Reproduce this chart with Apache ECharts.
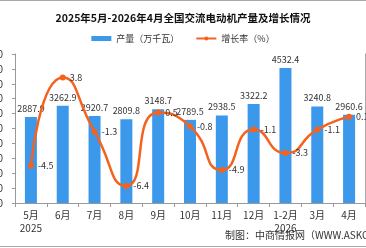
<!DOCTYPE html>
<html><head><meta charset="utf-8">
<script src="https://cdn.jsdelivr.net/npm/echarts@6/dist/echarts.min.js"></script>
<style>html,body{margin:0;padding:0;background:#fff}#c{width:366px;height:248px}</style>
</head><body><div id="c"></div>
<script>
const categories = ['5月\n2025','6月','7月','8月','9月','10月','11月','12月','1-2月\n2026','3月','4月'];
const production = [2887.9, 3262.9, 2920.7, 2809.8, 3148.7, 2789.5, 2938.5, 3322.2, 4532.4, 3240.8, 2960.6];
const growth = [-4.5, 3.8, -1.3, -6.4, 0.5, -0.8, -4.9, -1.1, -3.3, -1.1, 0.1];
const FONT = '"Noto Sans CJK SC", sans-serif';
const chart = echarts.init(document.getElementById('c'), null, {renderer:'canvas'});
chart.setOption({
  animation:false,
  textStyle:{fontFamily:FONT},
  title:{text:'2025年5月-2026年4月全国交流电动机产量及增长情况',left:'center',top:8,
    textStyle:{fontSize:10.5,fontWeight:'bold',color:'#111',fontFamily:FONT}},
  legend:{top:29,left:'center',itemGap:16,itemWidth:20,itemHeight:5,
    textStyle:{fontSize:9,color:'#333',fontFamily:FONT},
    data:[{name:'产量（万千瓦）',icon:'rect'},{name:'增长率（%）'}]},
  grid:{left:15,right:1,top:54,bottom:45,containLabel:false,outerBoundsMode:'none'},
  xAxis:{type:'category',data:categories,
    axisLine:{lineStyle:{color:'#999'}},
    axisTick:{show:true,alignWithLabel:false,lineStyle:{color:'#999'},length:4},
    axisLabel:{fontSize:10,color:'#333',margin:6,lineHeight:13,interval:0,fontFamily:FONT}},
  yAxis:[
    {type:'value',min:0,max:5000,interval:500,
     axisLine:{show:true,lineStyle:{color:'#999'}},
     axisTick:{show:true,inside:false,length:3,lineStyle:{color:'#999'}},
     splitLine:{show:false},
     axisLabel:{fontSize:10,color:'#333',margin:12}},
    {type:'value',min:-8,max:6,interval:2,
     axisLine:{show:true,lineStyle:{color:'#aaa'}},
     axisTick:{show:false},splitLine:{show:false},
     axisLabel:{fontSize:10,color:'#333',margin:4}}
  ],
  series:[
    {name:'产量（万千瓦）',type:'bar',data:production,barWidth:12,
     itemStyle:{color:'#3c98ea'},
     label:{show:true,position:'top',fontSize:9,color:'#333',distance:4,fontFamily:FONT}},
    {name:'增长率（%）',type:'line',yAxisIndex:1,data:growth,smooth:0.6,
     symbol:'circle',symbolSize:6,
     lineStyle:{color:'#f5621e',width:2.5},itemStyle:{color:'#f5621e'},
     label:{show:true,position:'right',fontSize:9,color:'#333',distance:4,fontFamily:FONT}}
  ],
  graphic:[
    {type:'line',shape:{x1:0,y1:0.5,x2:366,y2:0.5},style:{stroke:'#aaa',lineWidth:1}},
    {type:'line',shape:{x1:0,y1:246.5,x2:366,y2:246.5},style:{stroke:'#aaa',lineWidth:1}},
    {type:'text',left:225,top:230,style:{text:'制图：中商情报网（WWW.ASKCI.COM）',fontSize:10,fill:'#333',fontFamily:FONT}}
  ]
});
</script></body></html>
